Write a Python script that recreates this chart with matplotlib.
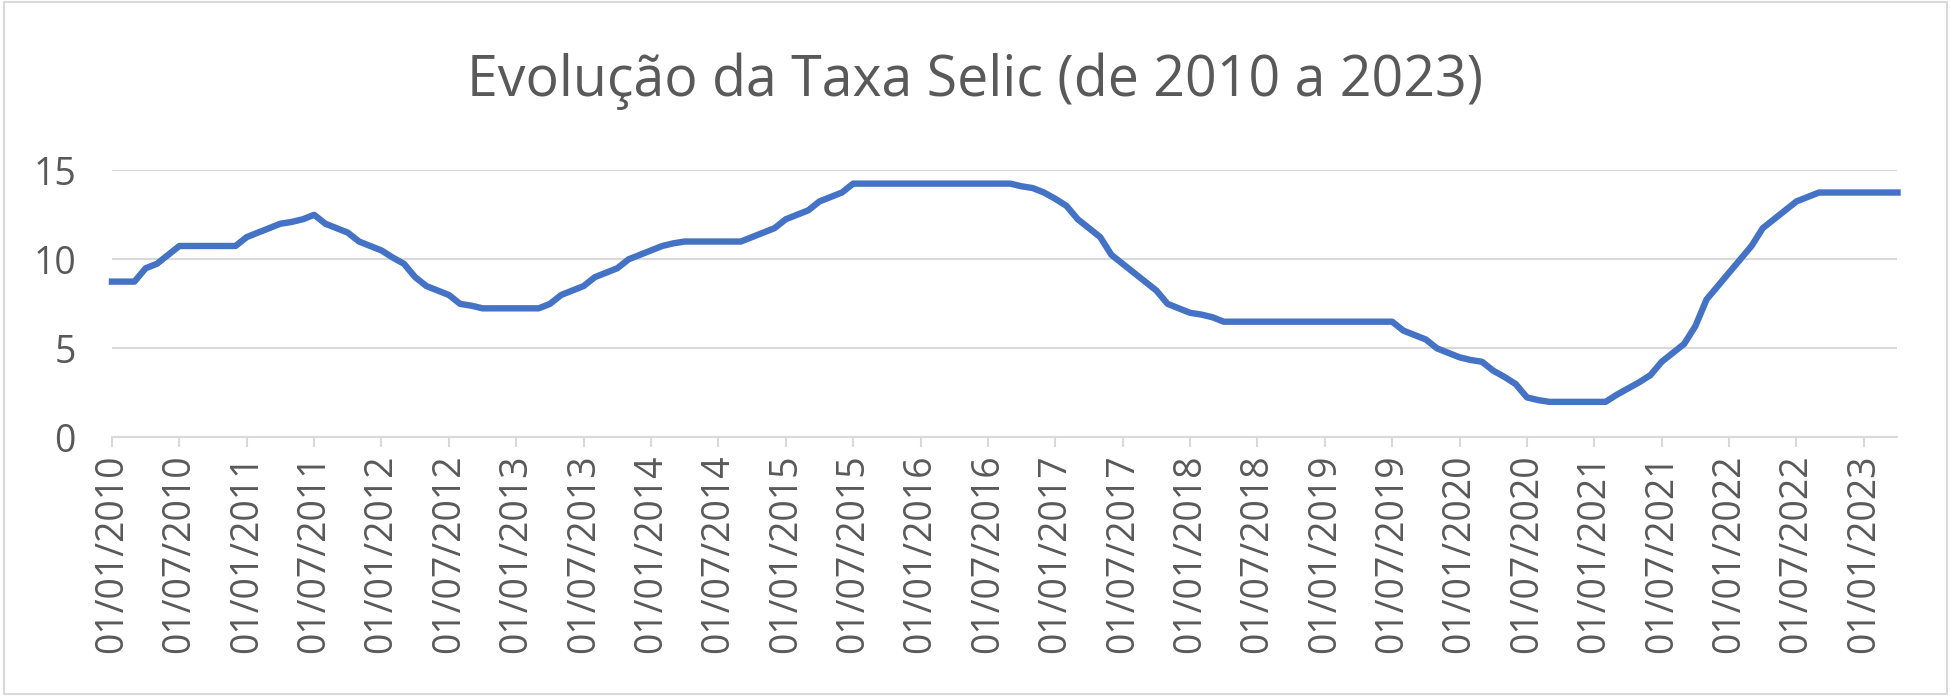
import numpy as np
import matplotlib.pyplot as plt
import matplotlib.patches as mpatches

# Selic rate, monthly, Jan 2010 - Apr 2023
selic_2010 = [8.75, 8.75, 8.75, 9.5, 9.75, 10.25, 10.75, 10.75, 10.75, 10.75, 10.75, 10.75]
selic_2011 = [11.25, 11.5, 11.75, 12.0, 12.1, 12.25, 12.5, 12.0, 11.75, 11.5, 11.0, 10.75]
selic_2012 = [10.5, 10.1, 9.75, 9.0, 8.5, 8.25, 8.0, 7.5, 7.4, 7.25, 7.25, 7.25]
selic_2013 = [7.25, 7.25, 7.25, 7.5, 8.0, 8.25, 8.5, 9.0, 9.25, 9.5, 10.0, 10.25]
selic_2014 = [10.5, 10.75, 10.9, 11.0, 11.0, 11.0, 11.0, 11.0, 11.0, 11.25, 11.5, 11.75]
selic_2015 = [12.25, 12.5, 12.75, 13.25, 13.5, 13.75, 14.25, 14.25, 14.25, 14.25, 14.25, 14.25]
selic_2016 = [14.25] * 9 + [14.1, 14.0, 13.75]
selic_2017 = [13.4, 13.0, 12.25, 11.75, 11.25, 10.25, 9.75, 9.25, 8.75, 8.25, 7.5, 7.25]
selic_2018 = [7.0, 6.9, 6.75, 6.5] + [6.5] * 8
selic_2019 = [6.5] * 7 + [6.0, 5.75, 5.5, 5.0, 4.75]
selic_2020 = [4.5, 4.35, 4.25, 3.75, 3.4, 3.0, 2.25, 2.1, 2.0, 2.0, 2.0, 2.0]
selic_2021 = [2.0, 2.0, 2.4, 2.75, 3.1, 3.5, 4.25, 4.75, 5.25, 6.25, 7.75, 8.5]
selic_2022 = [9.25, 10.0, 10.75, 11.75, 12.25, 12.75, 13.25, 13.5, 13.75, 13.75, 13.75, 13.75]
selic_2023 = [13.75, 13.75, 13.75, 13.75]

selic = (selic_2010 + selic_2011 + selic_2012 + selic_2013 + selic_2014 + selic_2015
         + selic_2016 + selic_2017 + selic_2018 + selic_2019 + selic_2020
         + selic_2021 + selic_2022 + selic_2023)

years = list(range(2010, 2024))
tick_labels = []
for y in years:
    tick_labels.append(f"01/01/{y}")
    if y < 2023:
        tick_labels.append(f"01/07/{y}")

gray = "#595959"
plt.rcParams['font.family'] = ['Open Sans', 'DejaVu Sans']

fig = plt.figure(figsize=(19.51, 6.96), dpi=100)
fig.patches.append(mpatches.Rectangle((0.002, 0.003), 0.996, 0.994, transform=fig.transFigure,
                                      fill=False, edgecolor="#d9d9d9", linewidth=1.5))
# positions measured on a 1568x560 view of the reference
ax = fig.add_axes([90 / 1568, 1 - 352 / 560, (1525 - 90) / 1568, (352 - 137) / 560])

x = np.arange(len(selic))
ax.plot(x, selic, color="#4472C4", linewidth=4.6, solid_joinstyle="round", clip_on=False)

ax.set_xlim(0, len(selic) - 1)
ax.set_ylim(0, 15)
ax.set_yticks([0, 5, 10, 15])
ax.set_xticks(np.arange(0, len(selic), 6))
ax.set_xticklabels(tick_labels, rotation=90)
ax.tick_params(axis='x', colors="#d9d9d9", labelcolor=gray, labelsize=27, length=7,
               width=1.5, pad=5)
ax.tick_params(axis='y', length=0, labelcolor=gray, labelsize=27, pad=26)
ax.grid(axis='y', color="#d9d9d9", linewidth=1.5)
ax.set_axisbelow(True)
for side in ['top', 'right', 'left']:
    ax.spines[side].set_visible(False)
ax.spines['bottom'].set_color("#d9d9d9")
ax.spines['bottom'].set_linewidth(1.5)

fig.text(0.5, 1 - 65 / 560, "Evolução da Taxa Selic (de 2010 a 2023)", ha='center', va='center',
         fontsize=40, color=gray)

fig.savefig("out.png", dpi=100)
